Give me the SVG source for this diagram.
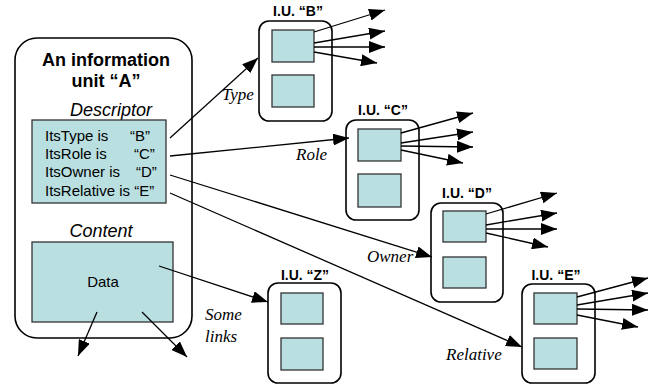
<svg xmlns="http://www.w3.org/2000/svg" width="650" height="385" viewBox="0 0 650 385">
<style>
.box{fill:#fff;stroke:#000;stroke-width:1.6}
.in{fill:#b9dfe1;stroke:#333;stroke-width:1.3}
.t{font-family:"Liberation Sans",Arial,sans-serif;fill:#000}
.tb{font-family:"Liberation Sans",Arial,sans-serif;font-weight:bold;font-size:14px;text-anchor:middle}
.lbl{font-family:"Liberation Serif","Times New Roman",serif;font-style:italic;font-size:17px}
.c{stroke:#000;stroke-width:1.3;fill:none}
.a{marker-end:url(#ah)}
</style>
<defs>
<marker id="ah" markerUnits="userSpaceOnUse" markerWidth="16" markerHeight="12" refX="16" refY="6" orient="auto">
<path d="M0,0 L16,6 L0,12 z" fill="#000"/>
</marker>
</defs>
<g id="nodeA">
<rect class="box" x="15" y="38" width="177" height="300" rx="22"/>
<text class="t" x="106" y="66" font-size="18" font-weight="bold" text-anchor="middle">An information</text>
<text class="t" x="106" y="87" font-size="18" font-weight="bold" text-anchor="middle">unit “A”</text>
<text class="t" x="111" y="116" font-size="18" font-style="italic" text-anchor="middle">Descriptor</text>
<rect class="in" x="32" y="120" width="134" height="83"/>
<text class="t" font-size="15"><tspan x="45" y="141">ItsType is</tspan><tspan x="130" y="141">“B”</tspan><tspan x="45" y="159">ItsRole is</tspan><tspan x="134" y="159">“C”</tspan><tspan x="45" y="177">ItsOwner is</tspan><tspan x="136" y="177">“D”</tspan><tspan x="45" y="196">ItsRelative is “E”</tspan></text>
<text class="t" x="101" y="237" font-size="18" font-style="italic" text-anchor="middle">Content</text>
<rect class="in" x="32" y="242" width="141" height="80"/>
<text class="t" x="103" y="287" font-size="15" text-anchor="middle">Data</text>
</g>
<g id="nodeB">
<text class="tb" x="298" y="16">I.U. “B”</text>
<rect class="box" x="259" y="21" width="73" height="100" rx="10"/>
<rect class="in" x="272" y="30" width="42" height="32"/>
<rect class="in" x="272" y="75" width="42" height="32"/>
</g>
<g id="nodeC">
<text class="tb" x="383" y="115">I.U. “C”</text>
<rect class="box" x="346" y="120" width="73" height="100" rx="10"/>
<rect class="in" x="358" y="129" width="43" height="32"/>
<rect class="in" x="358" y="174" width="43" height="33"/>
</g>
<g id="nodeD">
<text class="tb" x="467" y="198">I.U. “D”</text>
<rect class="box" x="431" y="203" width="72" height="99" rx="10"/>
<rect class="in" x="443" y="211" width="43" height="31"/>
<rect class="in" x="443" y="257" width="43" height="31"/>
</g>
<g id="nodeE">
<text class="tb" x="556" y="280">I.U. “E”</text>
<rect class="box" x="522" y="284" width="73" height="99" rx="10"/>
<rect class="in" x="534" y="293" width="43" height="31"/>
<rect class="in" x="534" y="338" width="43" height="31"/>
</g>
<g id="nodeZ">
<text class="tb" x="305" y="280">I.U. “Z”</text>
<rect class="box" x="268" y="283" width="73" height="100" rx="10"/>
<rect class="in" x="281" y="293" width="42" height="31"/>
<rect class="in" x="281" y="338" width="42" height="32"/>
</g>
<g id="connectors">
<line class="c a" x1="170" y1="138" x2="258" y2="58"/>
<line class="c a" x1="170" y1="156" x2="349" y2="138"/>
<line class="c a" x1="170" y1="175" x2="432" y2="257"/>
<line class="c a" x1="170" y1="193" x2="522" y2="347"/>
<line class="c a" x1="159" y1="266" x2="268" y2="302"/>
<line class="c a" x1="97" y1="312" x2="78" y2="356"/>
<line class="c a" x1="142" y1="312" x2="187" y2="357"/>
<line class="c a" x1="314" y1="32" x2="385" y2="10"/>
<line class="c a" x1="314" y1="43" x2="385" y2="31"/>
<line class="c a" x1="314" y1="47" x2="385" y2="47"/>
<line class="c a" x1="314" y1="52" x2="377" y2="63"/>
<line class="c a" x1="401" y1="133" x2="473" y2="113"/>
<line class="c a" x1="401" y1="143" x2="473" y2="132"/>
<line class="c a" x1="401" y1="146" x2="473" y2="147"/>
<line class="c a" x1="401" y1="150" x2="463" y2="163"/>
<line class="c a" x1="486" y1="214" x2="557" y2="193"/>
<line class="c a" x1="486" y1="225" x2="557" y2="213"/>
<line class="c a" x1="486" y1="229" x2="557" y2="229"/>
<line class="c a" x1="486" y1="233" x2="548" y2="247"/>
<line class="c a" x1="577" y1="297" x2="648" y2="278"/>
<line class="c a" x1="577" y1="305" x2="648" y2="293"/>
<line class="c a" x1="577" y1="309" x2="648" y2="310"/>
<line class="c a" x1="577" y1="315" x2="638" y2="327"/>
<text class="lbl" x="222" y="100">Type</text>
<text class="lbl" x="296" y="160">Role</text>
<text class="lbl" x="367" y="262">Owner</text>
<text class="lbl" x="446" y="360">Relative</text>
<text class="lbl" x="205" y="320">Some</text>
<text class="lbl" x="205" y="342">links</text>
</g>
</svg>
